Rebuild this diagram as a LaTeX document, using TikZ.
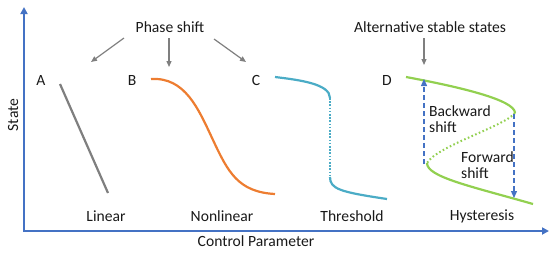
\documentclass[tikz,border=0pt]{standalone}
\usepackage{fontspec}
\setmainfont{Carlito}
\usetikzlibrary{arrows.meta}
\definecolor{axblue}{HTML}{4472C4}
\definecolor{cgrey}{HTML}{7F7F7F}
\definecolor{corange}{HTML}{ED7D31}
\definecolor{ccyan}{HTML}{4BACC6}
\definecolor{cgreen}{HTML}{92D050}
\tikzset{
  lbl/.style={font=\fontsize{15.6}{16.5}\selectfont, inner sep=0pt, text=black!90},
  axis/.style={axblue, line width=2pt, -{Triangle[length=7pt,width=7pt]}},
  ptr/.style={cgrey, line width=1.2pt, -{Triangle[length=6pt,width=5pt]}},
  curve/.style={line width=2.2pt},
  shiftarr/.style={axblue, line width=1.3pt, dash pattern=on 5pt off 3pt, -{Triangle[length=7pt,width=6pt]}},
}
\begin{document}
\begin{tikzpicture}[x=1pt,y=-1pt]
\useasboundingbox (0,0) rectangle (554,258);
% axes
\coordinate (ytop) at (24,7);
\coordinate (xend) at (549,231);
\draw[axis] (24,232) -- (ytop);
\draw[axis] (23,231) -- (xend);
\node[lbl, rotate=90] (state) at (13,115) {State};
\node[lbl] (cp) at (256,241) {Control Parameter};
% titles
\node[lbl] (phase) at (170,27) {Phase shift};
\node[lbl] (alt) at (430,27) {Alternative stable states};
\coordinate (pA) at (91,62);
\coordinate (pB) at (169,67);
\coordinate (pC) at (246,62);
\coordinate (pD) at (424,65);
\draw[ptr] (124,38) -- (pA);
\draw[ptr] (169,38) -- (pB);
\draw[ptr] (214,39) -- (pC);
\draw[ptr] (424,38) -- (pD);
% letters
\node[lbl] (A) at (41,80) {A};
\node[lbl] (B) at (132,80) {B};
\node[lbl] (C) at (256,80) {C};
\node[lbl] (D) at (387,80) {D};
% bottom labels
\node[lbl] (lin) at (106,216) {Linear};
\node[lbl] (nonlin) at (222,216) {Nonlinear};
\node[lbl] (thr) at (352,216) {Threshold};
\node[lbl] (hys) at (482,216) {Hysteresis};
% A linear
\draw[curve, cgrey] (60,84) -- (108,193);
% B nonlinear
\draw[curve, corange] (151,79) .. controls (185,77) and (198,108) .. (213,140)
  .. controls (228,172) and (238,192) .. (275,194);
% C threshold
\coordinate (c1) at (330,98);
\coordinate (c2) at (330,177);
\draw[curve, ccyan] (275,77) .. controls (300,80) and (330,84) .. (c1);
\draw[ccyan, line width=2pt, dash pattern=on 1.6pt off 1.6pt] (c1) -- (c2);
\draw[curve, ccyan] (c2) .. controls (330,189) and (340,192) .. (387,199);
% D hysteresis
\coordinate (d1) at (515,113);
\coordinate (d2) at (427,163);
\draw[curve, cgreen] (406,77) .. controls (460,87) and (515,100) .. (d1);
\draw[cgreen, line width=2pt, dash pattern=on 1.6pt off 2.4pt] (d1) .. controls (505,126) and (437,146) .. (d2);
\draw[curve, cgreen] (d2) .. controls (427,177) and (470,186) .. (533,204);
\coordinate (u1) at (424,164);
\coordinate (u2) at (424,79);
\coordinate (f1) at (514,114);
\coordinate (f2) at (514,198);
\draw[shiftarr] (u1) -- (u2);
\draw[shiftarr] (f1) -- (f2);
\node[lbl, anchor=west, align=left] (back) at (429,119) {Backward\\shift};
\node[lbl, anchor=west, align=left] (fwd) at (461,165) {Forward\\shift};
\end{tikzpicture}
\end{document}
